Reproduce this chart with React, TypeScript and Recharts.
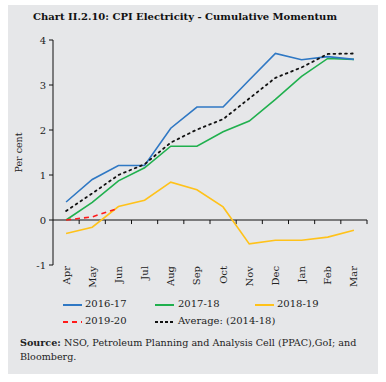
import React from 'react';
import { LineChart, Line, XAxis, YAxis, ReferenceLine } from 'recharts';

const months = ['Apr', 'May', 'Jun', 'Jul', 'Aug', 'Sep', 'Oct', 'Nov', 'Dec', 'Jan', 'Feb', 'Mar'];
const s2016 = [0.4, 0.9, 1.21, 1.21, 2.04, 2.51, 2.51, 3.11, 3.7, 3.56, 3.63, 3.57];
const s2017 = [0.0, 0.39, 0.87, 1.16, 1.64, 1.64, 1.96, 2.2, 2.68, 3.19, 3.59, 3.57];
const s2018 = [-0.3, -0.16, 0.3, 0.44, 0.84, 0.67, 0.29, -0.53, -0.45, -0.45, -0.38, -0.23];
const s2019 = [0.0, 0.07, 0.26];
const avg = [0.2, 0.59, 1.0, 1.24, 1.72, 2.01, 2.24, 2.7, 3.16, 3.39, 3.69, 3.7];
const yTicks = [-1, 0, 1, 2, 3, 4];
const boundaries = [0.5, 1.5, 2.5, 3.5, 4.5, 5.5, 6.5, 7.5, 8.5, 9.5, 10.5, 11.5];

const data = months.map((m, i) => ({
  idx: i,
  month: m,
  s2016: s2016[i],
  s2017: s2017[i],
  s2018: s2018[i],
  s2019: i < s2019.length ? s2019[i] : null,
  avg: avg[i],
}));

const SERIF = '"DejaVu Serif", serif';
const C_BLUE = '#2f78c4';
const C_GREEN = '#20b04e';
const C_YELLOW = '#ffc21a';
const C_RED = '#ff1a1a';

const XTick = (props: any) => {
  const { x, y, payload } = props;
  return (
    <text x={x} y={y} transform={`rotate(-90 ${x} ${y})`} textAnchor="end" dy="0.35em"
      fontFamily={SERIF} fontSize={10} fill="#222">
      {months[payload.value]}
    </text>
  );
};

const legendItems = [
  { label: '2016-17', color: C_BLUE, dash: undefined, lx: 63, tx: 85, row: 0 },
  { label: '2017-18', color: C_GREEN, dash: undefined, lx: 155, tx: 178, row: 0 },
  { label: '2018-19', color: C_YELLOW, dash: undefined, lx: 255, tx: 277, row: 0 },
  { label: '2019-20', color: C_RED, dash: '5 4', lx: 63, tx: 85, row: 1 },
  { label: 'Average: (2014-18)', color: '#111', dash: '3 2', lx: 155, tx: 178, row: 1 },
];

const LegendBlock = () => (
  <div style={{ position: 'absolute', left: 0, top: 297, width: 386, height: 36 }}>
    {legendItems.map((it) => (
      <React.Fragment key={it.label}>
        <svg style={{ position: 'absolute', left: it.lx, top: it.row * 17 + 6 }} width={19} height={4}>
          <line x1={0} y1={2} x2={19} y2={2} stroke={it.color} strokeWidth={2} strokeDasharray={it.dash} />
        </svg>
        <div style={{ position: 'absolute', left: it.tx, top: it.row * 17, fontFamily: SERIF, fontSize: 10, color: '#222', whiteSpace: 'nowrap', lineHeight: '14px' }}>
          {it.label}
        </div>
      </React.Fragment>
    ))}
  </div>
);

const srcStyle: React.CSSProperties = { position: 'absolute', fontFamily: SERIF, fontSize: 9.6, color: '#222', lineHeight: '14px', whiteSpace: 'nowrap' };

export default function App() {
  return (
    <div style={{ position: 'absolute', left: 0, top: 0, width: 386, height: 382, background: '#fff' }}>
      <div style={{ position: 'absolute', left: 8, top: 5, width: 370, height: 369, background: '#e6e7e9' }} />
      <div style={{ position: 'absolute', left: 0, top: 10, width: 370, textAlign: 'center', fontFamily: SERIF, fontWeight: 'bold', fontSize: 10, color: '#111', lineHeight: '14px' }}>
        Chart II.2.10: CPI Electricity - Cumulative Momentum
      </div>
      <div style={{ position: 'absolute', left: 0, top: 0 }}>
        <LineChart width={386} height={382} data={data} margin={{ top: 40, right: 19, left: 0, bottom: 77 }}>
          <XAxis dataKey="idx" type="number" domain={[-0.5, 11.5]} ticks={[0, 1, 2, 3, 4, 5, 6, 7, 8, 9, 10, 11]}
            interval={0} axisLine={false} tickLine={false} tickSize={0} tickMargin={1} height={40} tick={<XTick />} />
          <YAxis domain={[-1, 4]} ticks={yTicks} width={53} axisLine={{ stroke: '#111' }} tickLine={{ stroke: '#111' }} tickSize={4}
            tick={{ fontFamily: SERIF, fontSize: 10, fill: '#222' }} tickMargin={3}
            label={{ value: 'Per cent', angle: -90, position: 'insideLeft', offset: 19, style: { fontFamily: SERIF, fontSize: 9.5, fill: '#222', textAnchor: 'middle' } }} />
          <ReferenceLine y={0} stroke="#111" strokeWidth={1} />
          {boundaries.map((b) => (
            <ReferenceLine key={b} segment={[{ x: b, y: 0 }, { x: b, y: -0.09 }]} stroke="#111" strokeWidth={1} />
          ))}
          <Line dataKey="s2018" stroke={C_YELLOW} strokeWidth={1.6} dot={false} isAnimationActive={false} />
          <Line dataKey="s2017" stroke={C_GREEN} strokeWidth={1.6} dot={false} isAnimationActive={false} />
          <Line dataKey="s2016" stroke={C_BLUE} strokeWidth={1.6} dot={false} isAnimationActive={false} />
          <Line dataKey="avg" stroke="#111" strokeWidth={1.8} strokeDasharray="1.8 4" strokeLinecap="round" dot={false} isAnimationActive={false} />
          <Line dataKey="s2019" stroke={C_RED} strokeWidth={1.6} strokeDasharray="5 4" dot={false} isAnimationActive={false} connectNulls={false} />
        </LineChart>
      </div>
      <LegendBlock />
      <div style={{ ...srcStyle, left: 20, top: 336, fontWeight: 'bold' }}>Source:</div>
      <div style={{ ...srcStyle, left: 64, top: 336 }}>NSO, Petroleum Planning and Analysis Cell (PPAC),GoI; and</div>
      <div style={{ ...srcStyle, left: 20, top: 350 }}>Bloomberg.</div>
    </div>
  );
}
